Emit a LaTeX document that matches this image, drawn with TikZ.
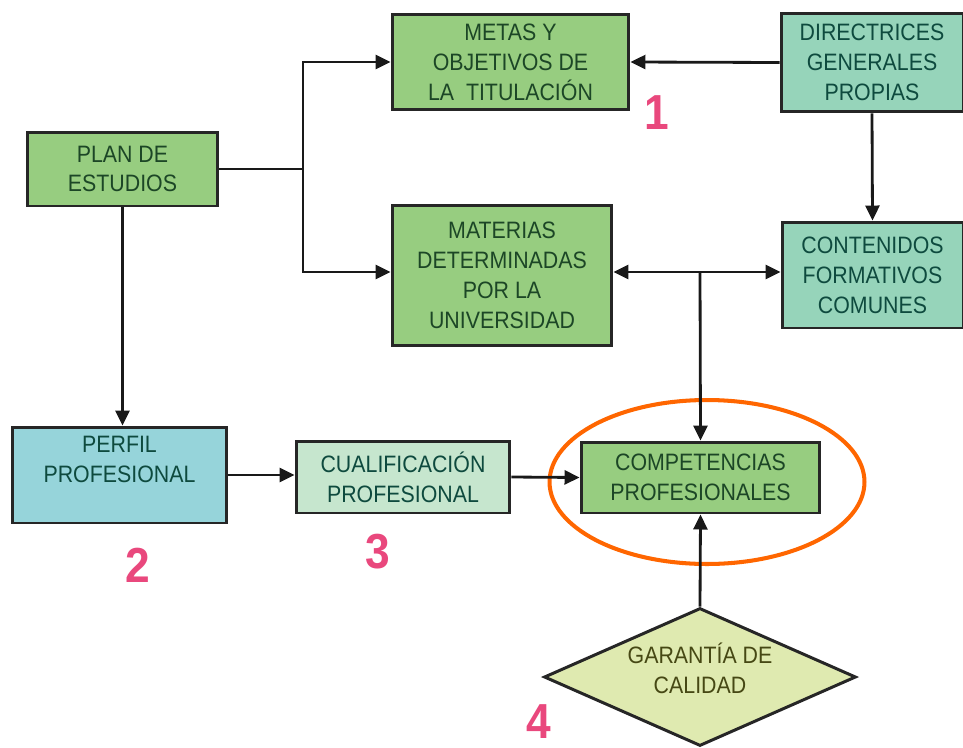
\documentclass[tikz,border=0pt]{standalone}
\usepackage{fontspec}
\setmainfont{Liberation Sans}[FakeStretch=0.9]
\usetikzlibrary{arrows.meta,shapes.geometric}
\definecolor{boxgreen}{RGB}{151,205,128}
\definecolor{boxteal}{RGB}{150,212,186}
\definecolor{boxblue}{RGB}{150,212,218}
\definecolor{boxpale}{RGB}{198,230,206}
\definecolor{boxlime}{RGB}{223,234,176}
\definecolor{txtgreen}{RGB}{28,70,38}
\definecolor{txtteal}{RGB}{14,74,62}
\definecolor{txtolive}{RGB}{70,72,20}
\definecolor{ringorange}{RGB}{255,102,0}
\definecolor{numpink}{RGB}{233,72,125}
\tikzset{
x=0.02cm, y=-0.02cm,
box/.style={rectangle,draw=black!85,line width=1.7pt,align=center,inner sep=0pt,
  font=\fontsize{13.5}{17}\selectfont},
green/.style={box,fill=boxgreen,text=txtgreen},
teal/.style={box,fill=boxteal,text=txtteal},
link/.style={line width=1.6pt,draw=black!90},
arrow/.style={link,-{Triangle[length=0.3cm,width=0.28cm]}},
}
\tikzstyle{num} = [inner sep=0pt, font=\fontsize{28}{28}\selectfont\bfseries, text=numpink]
\begin{document}
\begin{tikzpicture}
\useasboundingbox (0,0) rectangle (963,747);
\node[ellipse,draw=ringorange,line width=2.3pt,minimum width=6.3cm,minimum height=3.28cm] (ring) at (707,482) {};
\node[green,minimum width=4.74cm,minimum height=1.92cm] (metas) at (510.5,62) {METAS Y\\OBJETIVOS DE\\LA\ \ TITULACIÓN};
\node[teal,minimum width=3.64cm,minimum height=1.98cm] (direct) at (872,62.5) {DIRECTRICES\\GENERALES\\PROPIAS};
\node[green,minimum width=3.82cm,minimum height=1.48cm] (plan) at (122.5,169) {PLAN DE\\ESTUDIOS};
\node[green,minimum width=4.4cm,minimum height=2.82cm] (materias) at (502,275.5) {MATERIAS\\DETERMINADAS\\POR LA\\UNIVERSIDAD};
\node[teal,minimum width=3.62cm,minimum height=2.12cm] (conten) at (872.5,275) {CONTENIDOS\\FORMATIVOS\\COMUNES};
\node[box,fill=boxblue,text=txtteal,minimum width=4.3cm,minimum height=1.92cm,text depth=0.62cm] (perfil) at (119.5,475) {PERFIL\\PROFESIONAL};
\node[box,fill=boxpale,text=txtteal,minimum width=4.28cm,minimum height=1.44cm] (cualif) at (403,477) {CUALIFICACIÓN\\PROFESIONAL};
\node[green,minimum width=4.78cm,minimum height=1.42cm] (compet) at (700.5,477.5) {COMPETENCIAS\\PROFESIONALES};
\node[box,diamond,fill=boxlime,text=txtolive,aspect=2.26,minimum width=6.24cm,minimum height=2.76cm,text depth=0.34cm] (garantia) at (700,677) {GARANTÍA DE\\CALIDAD};
\node[num] (n1) at (657,113) {1};
\node[num] (n2) at (138,565) {2};
\node[num] (n3) at (378,552) {3};
\node[num] (n4) at (539,722) {4};
\coordinate (split) at (303,169);
\coordinate (cross) at (700,272);
\draw[link] (plan.east) -- (split);
\draw[arrow] (split) |- (metas.west);
\draw[arrow] (split) |- (cross -| materias.west);
\draw[arrow] (direct.west) -- (metas.east);
\draw[arrow] (direct.south) -- (conten.north);
\draw[arrow] (cross) -- (cross -| materias.east);
\draw[arrow] (cross) -- (cross -| conten.west);
\draw[arrow] (cross) -- (compet.north);
\draw[arrow] (garantia.north) -- (compet.south);
\draw[arrow] (plan.south) -- (plan.south |- perfil.north);
\draw[arrow] (perfil.east) -- (perfil.east -| cualif.west);
\draw[arrow] (cualif.east) -- (compet.west);
\end{tikzpicture}
\end{document}
